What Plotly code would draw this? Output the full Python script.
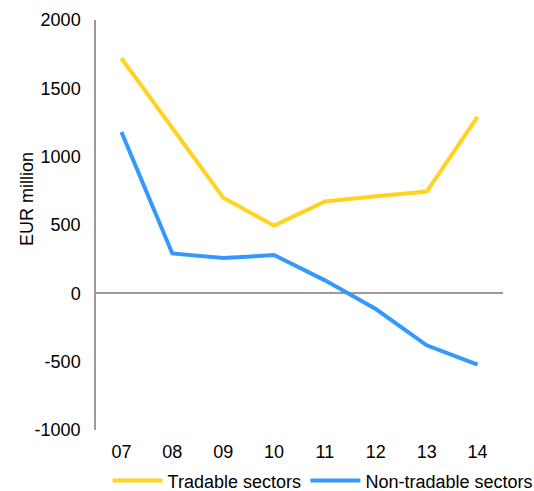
import plotly.graph_objects as go

years = ["07", "08", "09", "10", "11", "12", "13", "14"]
tradable = [1720, 1210, 700, 495, 672, 710, 745, 1292]
non_tradable = [1180, 292, 258, 280, 95, -115, -380, -522]
ytick_vals = [-1000, -500, 0, 500, 1000, 1500, 2000]
ytick_text = ["-1000", "-500", "0", "500", "1000", "1500", "2000"]

FONT = "Liberation Sans, Arial, sans-serif"
FS = 18

fig = go.Figure()
fig.add_trace(go.Scatter(x=years, y=tradable, mode="lines", name="Tradable sectors",
                         line=dict(color="#FFD31F", width=4), legend="legend"))
fig.add_trace(go.Scatter(x=years, y=non_tradable, mode="lines", name="Non-tradable sectors",
                         line=dict(color="#3399FF", width=4), legend="legend2"))

legend_common = dict(orientation="h", xanchor="left", yref="paper", y=-0.124,
                     yanchor="middle", font=dict(family=FONT, size=FS, color="#000000"),
                     itemwidth=50, indentation=12, tracegroupgap=0,
                     bgcolor="rgba(0,0,0,0)")

fig.update_layout(
    width=534, height=491,
    margin=dict(l=96, r=31, t=20, b=61, autoexpand=False),
    paper_bgcolor="white", plot_bgcolor="white",
    font=dict(family=FONT, size=FS, color="#000000"),
    showlegend=True,
    legend=dict(xref="paper", x=-0.001, **legend_common),
    legend2=dict(xref="paper", x=0.485, **legend_common),
    xaxis=dict(type="category", range=[-0.5, 7.5], showgrid=False, showline=False,
               zeroline=False, ticks="outside", ticklen=5, tickcolor="rgba(0,0,0,0)",
               tickfont=dict(family=FONT, size=FS)),
    yaxis=dict(range=[-1000, 2000], tickvals=ytick_vals, ticktext=ytick_text,
               showgrid=False, showline=True,
               linecolor="#9a9a9a", linewidth=1.5, zeroline=True, zerolinecolor="#9a9a9a",
               zerolinewidth=1.5, ticks="outside", ticklen=10, tickcolor="rgba(0,0,0,0)",
               tickfont=dict(family=FONT, size=FS)),
    annotations=[dict(text="EUR million", xref="paper", yref="paper", x=-0.17, y=0.563,
                      xanchor="center", yanchor="middle", textangle=-90, showarrow=False,
                      font=dict(family=FONT, size=FS, color="#000000"))],
)

fig.write_html("out.html", config={"displayModeBar": False},
               post_script="document.body.style.margin='0';")
